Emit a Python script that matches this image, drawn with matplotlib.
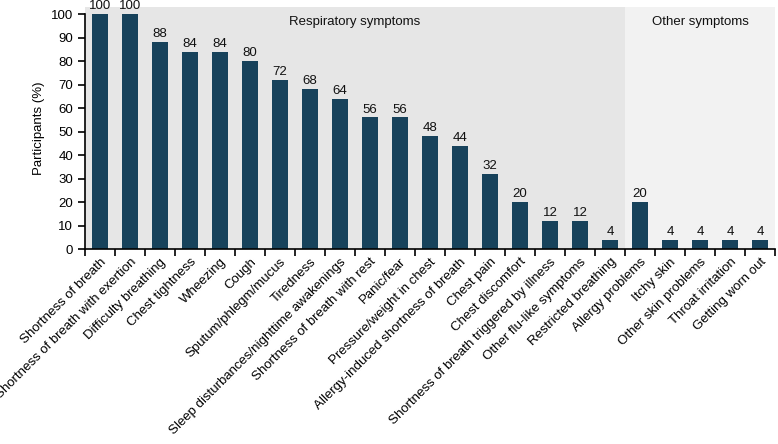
import numpy as np
import matplotlib
matplotlib.use("Agg")
import matplotlib.pyplot as plt

plt.rcParams['font.family'] = ['Liberation Sans', 'DejaVu Sans']

# Données
symptoms = [
    "Shortness of breath",
    "Shortness of breath with exertion",
    "Difficulty breathing",
    "Chest tightness",
    "Wheezing",
    "Cough",
    "Sputum/phlegm/mucus",
    "Tiredness",
    "Sleep disturbances/nighttime awakenings",
    "Shortness of breath with rest",
    "Panic/fear",
    "Pressure/weight in chest",
    "Allergy-induced shortness of breath",
    "Chest pain",
    "Chest discomfort",
    "Shortness of breath triggered by illness",
    "Other flu-like symptoms",
    "Restricted breathing",
    "Allergy problems",
    "Itchy skin",
    "Other skin problems",
    "Throat irritation",
    "Getting worn out",
]
participants = [100, 100, 88, 84, 84, 80, 72, 68, 64, 56, 56, 48, 44, 32, 20,
                12, 12, 4, 20, 4, 4, 4, 4]
n_respiratory = 18
group_labels = ["Respiratory symptoms", "Other symptoms"]

BAR_COLOR = "#17425b"
n = len(symptoms)
x = np.arange(n)

fig = plt.figure(figsize=(7.78, 4.44), dpi=100)
ax = fig.add_axes([85 / 778, 1 - 249 / 444, 690 / 778, 242 / 444])

ax.set_xlim(-0.5, n - 0.5)
ax.set_ylim(0, 103)

# Zones de fond
ax.axvspan(-0.5, n_respiratory - 0.5, color="#e6e6e6", zorder=0, lw=0)
ax.axvspan(n_respiratory - 0.5, n - 0.5, color="#f2f2f2", zorder=0, lw=0)
ax.text((n_respiratory - 1) / 2, 96.5, group_labels[0], ha="center",
        va="center", fontsize=9.5, color="#111111")
ax.text((n_respiratory - 0.5 + n - 0.5) / 2, 96.5, group_labels[1],
        ha="center", va="center", fontsize=9.5, color="#111111")

ax.bar(x, participants, width=0.52, color=BAR_COLOR, zorder=2)

for xi, v in zip(x, participants):
    ax.text(xi, v + 0.8, f"{v}", ha="center", va="bottom", fontsize=9.5,
            color="#111111", zorder=3)

# Axes
ax.set_yticks(np.arange(0, 101, 10))
ax.tick_params(axis="y", labelsize=9.5, length=5, width=1.2, direction="out")
ax.set_ylabel("Participants (%)", fontsize=9.5)

ax.set_xticks(x)
ax.set_xticklabels(symptoms, rotation=45, ha="right", rotation_mode="anchor",
                   fontsize=9.5)
ax.tick_params(axis="x", which="major", length=0, pad=5)
ax.set_xticks(np.arange(-0.5, n), minor=True)
ax.tick_params(axis="x", which="minor", length=5, width=1.2, direction="out")

for side in ["top", "right"]:
    ax.spines[side].set_visible(False)
ax.spines["left"].set_bounds(0, 100)
ax.spines["left"].set_linewidth(1.2)
ax.spines["bottom"].set_linewidth(1.2)

plt.savefig("out.png", dpi=100)
